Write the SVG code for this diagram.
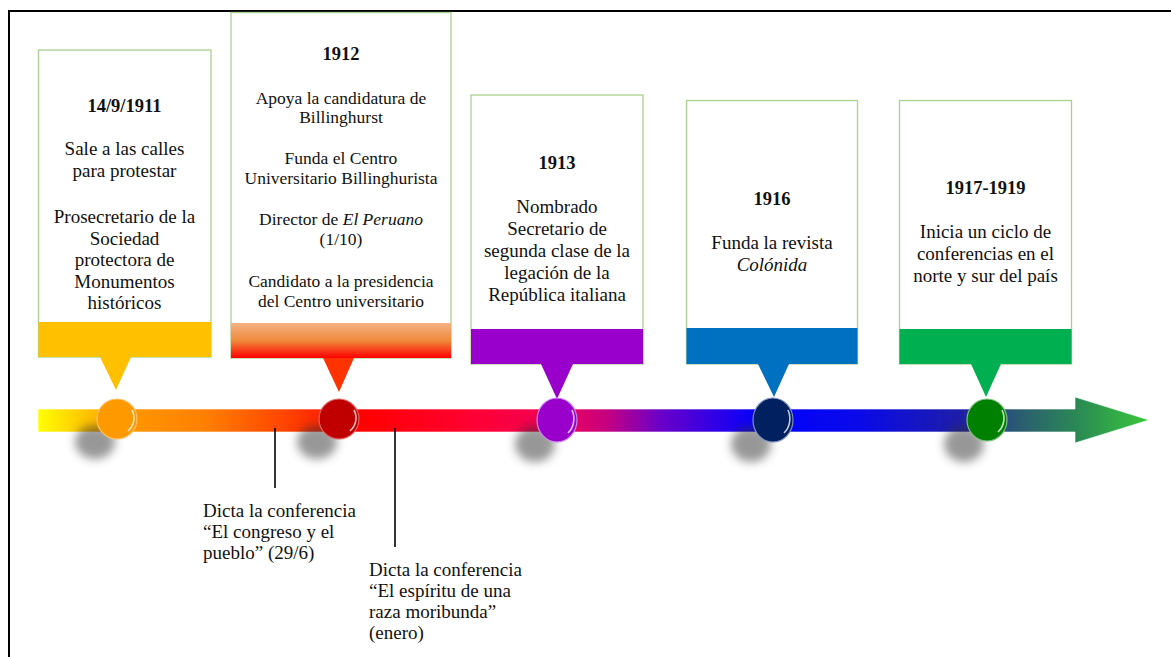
<svg xmlns="http://www.w3.org/2000/svg" width="1171" height="657" viewBox="0 0 1171 657">
<style>
.box{fill:#fff;stroke:#A9D18E;stroke-width:1.3}
.t{font-family:"Liberation Serif","Times New Roman",serif;font-size:19px;fill:#111;text-anchor:middle}
.t2{font-family:"Liberation Serif","Times New Roman",serif;font-size:17.5px;fill:#111;text-anchor:middle}
.d{font-family:"Liberation Serif","Times New Roman",serif;font-size:18.5px;font-weight:bold;fill:#111;text-anchor:middle}
.l{font-family:"Liberation Serif","Times New Roman",serif;font-size:19px;fill:#111}
.lead{stroke:#000;stroke-width:1.6;fill:none}
.shadow{fill:#333;opacity:0.5;filter:url(#blur)}
.gloss{fill:none;stroke:#fff;stroke-opacity:0.75;stroke-width:1.6}
</style>
<defs>
<linearGradient id="bar" gradientUnits="userSpaceOnUse" x1="38" y1="0" x2="1150" y2="0">
<stop offset="0" stop-color="#FFFF00"/>
<stop offset="0.075" stop-color="#FF9900"/>
<stop offset="0.15" stop-color="#FF8000"/>
<stop offset="0.227" stop-color="#FF4000"/>
<stop offset="0.29" stop-color="#FF0000"/>
<stop offset="0.39" stop-color="#FF0033"/>
<stop offset="0.47" stop-color="#F0005A"/>
<stop offset="0.51" stop-color="#C8007E"/>
<stop offset="0.56" stop-color="#6A00C8"/>
<stop offset="0.65" stop-color="#0000FF"/>
<stop offset="0.74" stop-color="#0A0AE8"/>
<stop offset="0.83" stop-color="#1E1EA8"/>
<stop offset="0.88" stop-color="#2A5A72"/>
<stop offset="0.935" stop-color="#2A8A55"/>
<stop offset="1" stop-color="#3AC83A"/>
</linearGradient>
<linearGradient id="band2" x1="0" y1="0" x2="0" y2="1">
<stop offset="0" stop-color="#F4B183"/>
<stop offset="0.5" stop-color="#F08A3C"/>
<stop offset="1" stop-color="#FF0000"/>
</linearGradient>
<filter id="blur" x="-50%" y="-50%" width="200%" height="200%"><feGaussianBlur stdDeviation="5"/></filter>
</defs>
<rect x="9" y="11" width="1200" height="700" fill="none" stroke="#000" stroke-width="2"/>

<g id="box1">
<rect class="box" x="38.5" y="50" width="172.5" height="307"/>
<rect x="38.5" y="322" width="172.5" height="35" fill="#FFC000"/>
<polygon points="100,357 131,357 116,390" fill="#FFC000"/>
<text class="d" x="124.5" y="112">14/9/1911</text>
<text class="t" x="124.5" y="155">Sale a las calles</text>
<text class="t" x="124.5" y="177">para protestar</text>
<text class="t" x="124.5" y="223">Prosecretario de la</text>
<text class="t" x="124.5" y="244.5">Sociedad</text>
<text class="t" x="124.5" y="266">protectora de</text>
<text class="t" x="124.5" y="287.5">Monumentos</text>
<text class="t" x="124.5" y="309">históricos</text>
</g>

<g id="box2">
<rect class="box" x="231" y="12.5" width="220" height="345.5"/>
<rect x="231" y="323" width="220" height="35" fill="url(#band2)"/>
<polygon points="323,358 354,358 339,392" fill="#FF3300"/>
<text class="d" x="341" y="60">1912</text>
<text class="t2" x="341" y="104">Apoya la candidatura de</text>
<text class="t2" x="341" y="123">Billinghurst</text>
<text class="t2" x="341" y="164">Funda el Centro</text>
<text class="t2" x="341" y="184">Universitario Billinghurista</text>
<text class="t2" x="341" y="225">Director de <tspan font-style="italic">El Peruano</tspan></text>
<text class="t2" x="341" y="245">(1/10)</text>
<text class="t2" x="341" y="287">Candidato a la presidencia</text>
<text class="t2" x="341" y="307">del Centro universitario</text>
</g>

<g id="box3">
<rect class="box" x="471" y="95" width="172" height="269"/>
<rect x="471" y="329" width="172" height="35" fill="#9900CC"/>
<polygon points="541,364 573,364 557,399" fill="#9900CC"/>
<text class="d" x="557" y="169">1913</text>
<text class="t" x="557" y="213">Nombrado</text>
<text class="t" x="557" y="235">Secretario de</text>
<text class="t" x="557" y="257">segunda clase de la</text>
<text class="t" x="557" y="279">legación de la</text>
<text class="t" x="557" y="301">República italiana</text>
</g>

<g id="box4">
<rect class="box" x="686.5" y="100.5" width="171" height="263.5"/>
<rect x="686.5" y="328" width="171" height="36" fill="#0070C0"/>
<polygon points="758,364 789,364 774,397" fill="#0070C0"/>
<text class="d" x="772" y="205">1916</text>
<text class="t" x="772" y="249">Funda la revista</text>
<text class="t" x="772" y="271" font-style="italic">Colónida</text>
</g>

<g id="box5">
<rect class="box" x="899.5" y="100.5" width="172" height="263.5"/>
<rect x="899.5" y="329" width="172" height="35" fill="#00B050"/>
<polygon points="971,364 1001,364 986,397" fill="#00B050"/>
<text class="d" x="985.5" y="194">1917-1919</text>
<text class="t" x="985.5" y="238">Inicia un ciclo de</text>
<text class="t" x="985.5" y="260">conferencias en el</text>
<text class="t" x="985.5" y="282">norte y sur del país</text>
</g>

<g id="timeline">
<polygon points="38,409 1075,409 1075,397 1149,420 1075,443 1075,432 38,432" fill="url(#bar)" stroke="#fff" stroke-opacity="0.6" stroke-width="1"/>
<ellipse class="shadow" cx="95" cy="442" rx="20" ry="17"/>
<ellipse class="shadow" cx="317" cy="442" rx="20" ry="17"/>
<ellipse class="shadow" cx="535" cy="444" rx="20" ry="18"/>
<ellipse class="shadow" cx="751" cy="444" rx="20" ry="18"/>
<ellipse class="shadow" cx="964" cy="444" rx="20" ry="18"/>
</g>

<g id="dot1">
<circle cx="117" cy="419" r="20" fill="#FF9900" stroke="#FFC266" stroke-width="1.2"/>
<path class="gloss" d="M132,410 A17,17 0 0 1 128,431"/>
</g>
<g id="dot2">
<circle cx="339" cy="419" r="20" fill="#C00000" stroke="#E06666" stroke-width="1.2"/>
<path class="gloss" d="M354,410 A17,17 0 0 1 350,431"/>
</g>
<g id="dot3">
<ellipse cx="557" cy="420" rx="20" ry="22" fill="#9900CC" stroke="#CC88EE" stroke-width="1.2"/>
<path class="gloss" d="M572,410 A17,19 0 0 1 568,433"/>
</g>
<g id="dot4">
<ellipse cx="773" cy="420" rx="20" ry="22" fill="#002060" stroke="#8090C0" stroke-width="1.2"/>
<path class="gloss" d="M788,410 A17,19 0 0 1 784,433"/>
</g>
<g id="dot5">
<ellipse cx="987" cy="420" rx="20" ry="21" fill="#008000" stroke="#80C080" stroke-width="1.2"/>
<path class="gloss" d="M1002,410 A17,18 0 0 1 998,432"/>
</g>

<g id="connectors">
<line class="lead" x1="275" y1="428" x2="275" y2="488"/>
<line class="lead" x1="395" y1="428" x2="395" y2="547"/>
</g>

<g id="label1">
<text class="l" x="203" y="517">Dicta la conferencia</text>
<text class="l" x="203" y="538">“El congreso y el</text>
<text class="l" x="203" y="559">pueblo” (29/6)</text>
</g>
<g id="label2">
<text class="l" x="369" y="576">Dicta la conferencia</text>
<text class="l" x="369" y="597">“El espíritu de una</text>
<text class="l" x="369" y="618">raza moribunda”</text>
<text class="l" x="369" y="639">(enero)</text>
</g>
</svg>
